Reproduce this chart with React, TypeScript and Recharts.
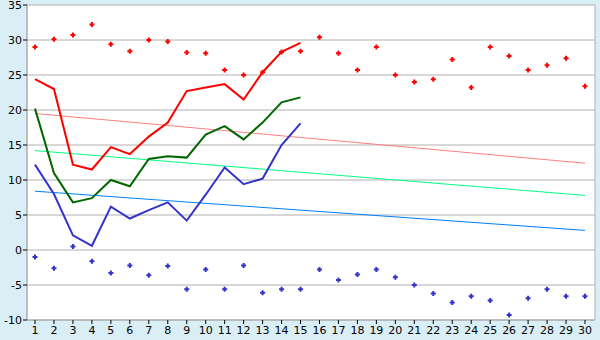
import React from 'react';
import { LineChart, Line, XAxis, YAxis, CartesianGrid } from 'recharts';

const days = Array.from({ length: 30 }, (_, i) => String(i + 1));

const redDots = [29.0, 30.1, 30.7, 32.2, 29.4, 28.4, 30.0, 29.8, 28.2, 28.1, 25.7, 25.0, 25.4, 28.3, 28.4,
  30.4, 28.1, 25.7, 29.0, 25.0, 24.0, 24.4, 27.2, 23.2, 29.0, 27.7, 25.7, 26.4, 27.4, 23.4];
const blueDots = [-1.0, -2.6, 0.5, -1.6, -3.3, -2.2, -3.6, -2.3, -5.6, -2.8, -5.6, -2.2, -6.1, -5.6, -5.6,
  -2.8, -4.3, -3.5, -2.8, -3.9, -5.0, -6.2, -7.5, -6.6, -7.2, -9.3, -6.9, -5.6, -6.6, -6.6];

const redLine = [24.4, 23.0, 12.2, 11.5, 14.7, 13.7, 16.2, 18.2, 22.7, 23.2, 23.7, 21.5, 25.4, 28.3, 29.6];
const greenLine = [20.2, 11.0, 6.8, 7.4, 10.0, 9.1, 13.0, 13.4, 13.2, 16.5, 17.7, 15.8, 18.2, 21.1, 21.8];
const blueLine = [12.2, 8.0, 2.1, 0.6, 6.2, 4.5, 5.7, 6.8, 4.2, 7.9, 11.8, 9.4, 10.2, 15.0, 18.1];

// trend lines: start / end values
const redTrend = [19.5, 12.4];
const greenTrend = [14.2, 7.8];
const blueTrend = [8.4, 2.8];

const yTicks = [-10, -5, 0, 5, 10, 15, 20, 25, 30, 35];

const data = days.map((day, i) => ({
  day,
  redDot: redDots[i],
  blueDot: blueDots[i],
  red: i < redLine.length ? redLine[i] : null,
  green: i < greenLine.length ? greenLine[i] : null,
  blue: i < blueLine.length ? blueLine[i] : null,
  redT: i === 0 ? redTrend[0] : i === days.length - 1 ? redTrend[1] : null,
  greenT: i === 0 ? greenTrend[0] : i === days.length - 1 ? greenTrend[1] : null,
  blueT: i === 0 ? blueTrend[0] : i === days.length - 1 ? blueTrend[1] : null,
}));

const crossDot = (color: string) => (props: any) => {
  const { cx, cy, index, value } = props;
  if (value == null || cx == null || cy == null) return <g key={index} />;
  const d = `M${cx - 1} ${cy - 2.5} h2 v1.5 h1.5 v2 h-1.5 v1.5 h-2 v-1.5 h-1.5 v-2 h1.5 z`;
  return <path key={index} d={d} fill={color} stroke="none" />;
};

const tickStyle = { fill: '#000', fontSize: 11, fontFamily: 'DejaVu Sans, Verdana, sans-serif' };

export default function App() {
  return (
    <div style={{ position: 'fixed', left: 0, top: 0, width: 600, height: 340, background: '#daeef6' }}>
      <LineChart width={600} height={340} data={data} margin={{ top: 5, right: 5, bottom: 0, left: 0 }}>
        <CartesianGrid
          fill="#ffffff"
          stroke="#b0b0b0"
          horizontal={true}
          vertical={true}
          verticalPoints={[27, 595]}
        />
        <XAxis
          dataKey="day"
          height={20}
          interval={0}
          padding={{ left: 8, right: 10 }}
          axisLine={{ stroke: '#a8a8a8' }}
          tickLine={{ stroke: '#000' }}
          tickSize={4}
          tickMargin={2}
          tick={tickStyle}
        />
        <YAxis
          domain={[-10, 35]}
          ticks={yTicks}
          width={27}
          interval={0}
          axisLine={{ stroke: '#a8a8a8' }}
          tickLine={{ stroke: '#000' }}
          tickSize={4}
          tickMargin={1}
          tick={tickStyle}
        />
        <Line dataKey="redT" stroke="#ff8080" strokeWidth={1} dot={false} connectNulls isAnimationActive={false} />
        <Line dataKey="greenT" stroke="#00ff80" strokeWidth={1} dot={false} connectNulls isAnimationActive={false} />
        <Line dataKey="blueT" stroke="#0080ff" strokeWidth={1} dot={false} connectNulls isAnimationActive={false} />
        <Line dataKey="red" stroke="#ff0000" strokeWidth={2} dot={false} isAnimationActive={false} />
        <Line dataKey="green" stroke="#006600" strokeWidth={2} dot={false} isAnimationActive={false} />
        <Line dataKey="blue" stroke="#3333cc" strokeWidth={2} dot={false} isAnimationActive={false} />
        <Line dataKey="redDot" stroke="none" dot={crossDot('#ff0000')} activeDot={false} isAnimationActive={false} />
        <Line dataKey="blueDot" stroke="none" dot={crossDot('#3333cc')} activeDot={false} isAnimationActive={false} />
      </LineChart>
    </div>
  );
}
